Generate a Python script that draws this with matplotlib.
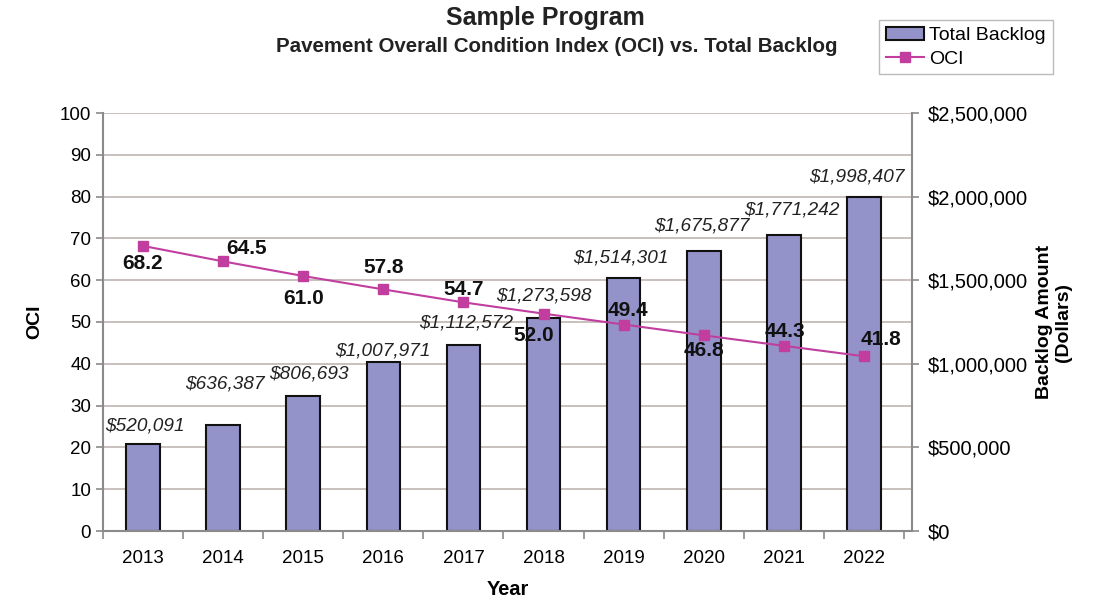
import matplotlib.pyplot as plt
from matplotlib.ticker import FuncFormatter, MultipleLocator
from matplotlib.patches import Patch
from matplotlib.lines import Line2D

YEARS = ['2013', '2014', '2015', '2016', '2017', '2018', '2019', '2020', '2021', '2022']
BACKLOG = [520091, 636387, 806693, 1007971, 1112572, 1273598, 1514301, 1675877, 1771242, 1998407]
OCI = [68.2, 64.5, 61.0, 57.8, 54.7, 52.0, 49.4, 46.8, 44.3, 41.8]

# label offsets (points) relative to bar top / marker
BACKLOG_OFFSETS = [(1, 13), (1, 29), (4, 16), (0, 8), (2, 16), (0, 16), (-2, 14), (-1, 18), (6, 18), (-5, 14)]
OCI_OFFSETS = [(0, -13), (17, 9), (0, -16), (0, 16), (0, 9), (-7, -16), (3, 10), (0, -11), (1, 10), (12, 12)]

BAR_COLOR = '#9393C9'
LINE_COLOR = '#C13E9E'
GRID = '#BDB5B0'

plt.rcParams['font.family'] = ['Liberation Sans', 'DejaVu Sans']

fig = plt.figure(figsize=(10.94, 6.02), dpi=100, facecolor='white')
ax = fig.add_axes([103 / 1094, 1 - 531 / 602, (912 - 103) / 1094, (531 - 113) / 602])
ax2 = ax.twinx()

x = list(range(len(YEARS)))

# bars on the right axis, line on the left axis
ax2.bar(x, BACKLOG, width=0.42, color=BAR_COLOR, edgecolor='#111111', linewidth=1.5, zorder=2)
ax2.set_ylim(0, 2500000)
ax2.yaxis.set_major_locator(MultipleLocator(500000))
ax2.yaxis.set_major_formatter(FuncFormatter(lambda v, p: f'${v:,.0f}'))

for xi, v, (dx, dy) in zip(x, BACKLOG, BACKLOG_OFFSETS):
    ax2.annotate(f'${v:,.0f}', (xi, v), xytext=(dx, dy), textcoords='offset points',
                 ha='center', va='center', fontsize=13.7, fontstyle='italic', color='#222222')

ax.set_zorder(ax2.get_zorder() + 1)
ax.patch.set_visible(False)
ax2.patch.set_facecolor('white')

ax.plot(x, OCI, color=LINE_COLOR, linewidth=1.5, marker='s', markersize=7.5,
        markerfacecolor=LINE_COLOR, markeredgecolor=LINE_COLOR, zorder=5)
for xi, v, (dx, dy) in zip(x, OCI, OCI_OFFSETS):
    ax.annotate(f'{v:.1f}', (xi, v), xytext=(dx, dy), textcoords='offset points',
                ha='center', va='center', fontsize=15, fontweight='bold', color='#111111')

ax.set_ylim(0, 100)
ax.set_xlim(-0.5, 9.6)
ax.yaxis.set_major_locator(MultipleLocator(10))
for yv in range(10, 101, 10):
    ax2.axhline(yv * 25000, color=GRID, linewidth=1.2, zorder=1)

ax.set_xticks(x)
ax.set_xticklabels(YEARS, fontsize=13.5)
ax.set_xticks([i + 0.5 for i in range(-1, 10)], minor=True)
ax.tick_params(axis='x', which='major', length=0, pad=14)
ax.tick_params(axis='x', which='minor', length=6, color='#8a8a8a', width=1.2)
ax.tick_params(axis='y', labelsize=13.5, length=5, color='#8a8a8a', width=1.2)
ax2.tick_params(axis='y', labelsize=14.5, length=5, color='#8a8a8a', width=1.2, pad=6)

for a in (ax, ax2):
    for s in a.spines.values():
        s.set_visible(False)
for a, side in ((ax, 'left'), (ax, 'bottom'), (ax2, 'right')):
    a.spines[side].set_visible(True)
    a.spines[side].set_color('#8a8a8a')
    a.spines[side].set_linewidth(1.5)

ax.set_ylabel('OCI', fontsize=14, fontweight='bold', labelpad=12)
ax.set_xlabel('Year', fontsize=14.4, fontweight='bold', labelpad=9)
ax2.set_ylabel('Backlog Amount\n(Dollars)', fontsize=14, fontweight='bold', labelpad=6)

fig.text(545 / 1094, 1 - 18 / 602, 'Sample Program', ha='center', va='center',
         fontsize=18, fontweight='bold', color='#222222')
fig.text(557 / 1094, 1 - 47 / 602, 'Pavement Overall Condition Index (OCI) vs. Total Backlog',
         ha='center', va='center', fontsize=14.8, fontweight='bold', color='#222222')

# legend
handles = [Patch(facecolor=BAR_COLOR, edgecolor='#111111', linewidth=1.5, label='Total Backlog'),
           Line2D([0], [0], color=LINE_COLOR, marker='s', markersize=7, linewidth=1.5, label='OCI')]
fig.legend(handles=handles, loc='upper left', bbox_to_anchor=(869 / 1094, 1 - 10 / 602),
           frameon=True, fancybox=False, edgecolor='#b0a8a8', fontsize=14,
           handlelength=2.0, handletextpad=0.25, borderpad=0.35, labelspacing=0.3)

fig.savefig('out.png', dpi=100, facecolor='white')
